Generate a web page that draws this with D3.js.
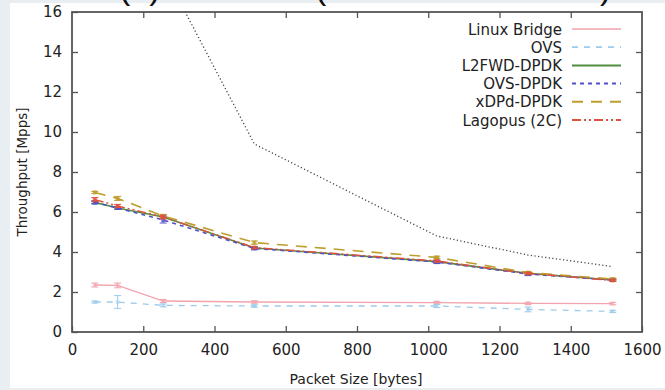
<!DOCTYPE html>
<html lang="en">
<head>
  <meta charset="UTF-8">
  <title>Throughput vs packet size</title>
  <style>
    body { margin: 0; background: #e9eef2; font-family: "DejaVu Sans", sans-serif; }
  </style>
  <script src="https://cdn.jsdelivr.net/npm/d3@7"></script>
</head>
<body>
<script>
  // packet sizes (bytes)
  var sizes = [64, 128, 256, 512, 1024, 1280, 1518];

  var seriesNames = ["Linux Bridge", "OVS", "L2FWD-DPDK", "OVS-DPDK", "xDPd-DPDK", "Lagopus (2C)"];
  var linuxBridge = [2.35, 2.33, 1.55, 1.5, 1.47, 1.43, 1.42];
  var ovs         = [1.5, 1.5, 1.33, 1.3, 1.3, 1.13, 1.03];
  var l2fwd       = [6.48, 6.2, 5.75, 4.2, 3.52, 2.93, 2.6];
  var ovsDpdk     = [6.48, 6.2, 5.6, 4.18, 3.5, 2.9, 2.6];
  var xdpd        = [6.98, 6.68, 5.8, 4.47, 3.73, 2.97, 2.65];
  var lagopus     = [6.62, 6.3, 5.75, 4.22, 3.55, 2.93, 2.58];

  // half size of error bars
  var linuxBridgeErr = [0.1, 0.12, 0.08, 0.06, 0.06, 0.06, 0.06];
  var ovsErr         = [0.05, 0.32, 0.07, 0.06, 0.08, 0.12, 0.05];
  var l2fwdErr       = [0.05, 0.05, 0.05, 0.05, 0.05, 0.05, 0.05];
  var ovsDpdkErr     = [0.08, 0.06, 0.15, 0.07, 0.08, 0.08, 0.05];
  var xdpdErr        = [0.05, 0.1, 0.08, 0.08, 0.06, 0.05, 0.05];
  var lagopusErr     = [0.1, 0.08, 0.1, 0.05, 0.05, 0.05, 0.05];

  // line rate (black dotted, not in legend)
  var lineRateSizes = [256, 512, 1024, 1280, 1518];
  var lineRate      = [18.1, 9.4, 4.8, 3.85, 3.27];

  var xTicks = [0, 200, 400, 600, 800, 1000, 1200, 1400, 1600];
  var yTicks = [0, 2, 4, 6, 8, 10, 12, 14, 16];

  var colors  = ["#f2a3ad", "#9ccbeb", "#4f8f3f", "#5050c8", "#bf9d2c", "#e0503e"];
  var dashes  = [null, "6,6", null, "4,4", "11,8", "9,3,2,3,2,3"];
  var widths  = [1.3, 1.3, 1.6, 1.6, 1.6, 1.5];

  var values = [linuxBridge, ovs, l2fwd, ovsDpdk, xdpd, lagopus];
  var errs = [linuxBridgeErr, ovsErr, l2fwdErr, ovsDpdkErr, xdpdErr, lagopusErr];

  var W = 665, H = 390;
  var mLeft = 72, mRight = 642, mTop = 12, mBottom = 332;
  var font = "'DejaVu Sans', sans-serif";

  var svg = d3.select("body").append("svg")
    .attr("width", W).attr("height", H)
    .style("display", "block");

  svg.append("rect").attr("x", 0).attr("y", 0).attr("width", W).attr("height", H).attr("fill", "#e9eef2");
  svg.append("rect").attr("x", 10).attr("y", 3).attr("width", W - 10).attr("height", 385).attr("fill", "#fff");

  // title, mostly cut off at the top of the image
  var titleG = svg.append("g").attr("font-size", 34).attr("fill", "#111").attr("font-family", "'Liberation Sans', sans-serif");
  titleG.append("text").attr("x", 119).attr("y", -1).text("(a)");
  titleG.append("text").attr("x", 315).attr("y", -1).text("(");
  titleG.append("text").attr("x", 600).attr("y", -1).text(")");

  var x = d3.scaleLinear().domain([0, 1600]).range([mLeft, mRight]);
  var y = d3.scaleLinear().domain([0, 16]).range([mBottom, mTop]);

  svg.append("defs").append("clipPath").attr("id", "plotclip")
    .append("rect").attr("x", mLeft).attr("y", mTop).attr("width", mRight - mLeft).attr("height", mBottom - mTop);

  var plot = svg.append("g").attr("clip-path", "url(#plotclip)");

  var line = d3.line().x(function(d) { return x(d[0]); }).y(function(d) { return y(d[1]); });

  // line rate
  plot.append("path")
    .datum(d3.zip(lineRateSizes, lineRate))
    .attr("d", line)
    .attr("fill", "none")
    .attr("stroke", "#444")
    .attr("stroke-width", 1.3)
    .attr("stroke-dasharray", "1.2,2.4");

  values.forEach(function(vals, i) {
    var pts = d3.zip(sizes, vals);
    var g = plot.append("g");
    g.append("path")
      .datum(pts)
      .attr("d", line)
      .attr("fill", "none")
      .attr("stroke", colors[i])
      .attr("stroke-width", widths[i])
      .attr("stroke-dasharray", dashes[i]);

    // error bars with caps
    pts.forEach(function(p, j) {
      var e = errs[i][j];
      var cx = x(p[0]);
      g.append("line").attr("x1", cx).attr("x2", cx).attr("y1", y(p[1] - e)).attr("y2", y(p[1] + e))
        .attr("stroke", colors[i]).attr("stroke-width", 1);
      [p[1] - e, p[1] + e].forEach(function(v) {
        g.append("line").attr("x1", cx - 3.5).attr("x2", cx + 3.5).attr("y1", y(v)).attr("y2", y(v))
          .attr("stroke", colors[i]).attr("stroke-width", 1);
      });
      g.append("rect").attr("x", cx - 2).attr("y", y(p[1]) - 2).attr("width", 4).attr("height", 4)
        .attr("fill", colors[i]).attr("opacity", i < 2 ? 0.45 : 0.75);
    });
  });

  // axes (ticks inward on all sides)
  var axisColor = "#555";
  var tickLen = 6;

  var xAxisB = d3.axisBottom(x).tickValues(xTicks).tickSizeInner(-tickLen).tickSizeOuter(0).tickPadding(12).tickFormat(d3.format("d"));
  var yAxisL = d3.axisLeft(y).tickValues(yTicks).tickSizeInner(-tickLen).tickSizeOuter(0).tickPadding(10).tickFormat(d3.format("d"));
  var xAxisT = d3.axisTop(x).tickValues(xTicks.slice(1, -1)).tickSizeInner(-tickLen).tickSizeOuter(0).tickFormat("");
  var yAxisR = d3.axisRight(y).tickValues(yTicks.slice(1, -1)).tickSizeInner(-tickLen).tickSizeOuter(0).tickFormat("");

  function styleAxis(g) {
    g.select(".domain").remove();
    g.selectAll(".tick line").attr("stroke", axisColor).attr("stroke-width", 1.3);
    g.selectAll(".tick text").attr("fill", "#222").attr("font-size", 15).attr("font-family", font);
  }

  svg.append("g").attr("transform", "translate(0," + mBottom + ")").call(xAxisB).call(styleAxis);
  svg.append("g").attr("transform", "translate(" + mLeft + ",0)").call(yAxisL).call(styleAxis);
  svg.append("g").attr("transform", "translate(0," + mTop + ")").call(xAxisT).call(styleAxis);
  svg.append("g").attr("transform", "translate(" + mRight + ",0)").call(yAxisR).call(styleAxis);

  svg.append("rect")
    .attr("x", mLeft).attr("y", mTop).attr("width", mRight - mLeft).attr("height", mBottom - mTop)
    .attr("fill", "none").attr("stroke", axisColor).attr("stroke-width", 1.8);

  svg.append("text")
    .attr("x", 356).attr("y", 384)
    .attr("text-anchor", "middle").attr("font-size", 14).attr("fill", "#222").attr("font-family", font)
    .text("Packet Size [bytes]");

  svg.append("text")
    .attr("transform", "translate(27," + ((mTop + mBottom) / 2) + ") rotate(-90)")
    .attr("text-anchor", "middle").attr("font-size", 13.5).attr("fill", "#222").attr("font-family", font)
    .text("Throughput [Mpps]");

  // legend
  var legend = svg.append("g");
  seriesNames.forEach(function(name, i) {
    var ly = 29 + i * 18.2;
    legend.append("text")
      .attr("x", 562).attr("y", ly + 5.5)
      .attr("text-anchor", "end").attr("font-size", 15).attr("fill", "#222").attr("font-family", font)
      .text(name);
    legend.append("line")
      .attr("x1", 572).attr("x2", 621).attr("y1", ly).attr("y2", ly)
      .attr("stroke", colors[i]).attr("stroke-width", widths[i] + 0.4)
      .attr("stroke-dasharray", dashes[i]);
  });
</script>
</body>
</html>
